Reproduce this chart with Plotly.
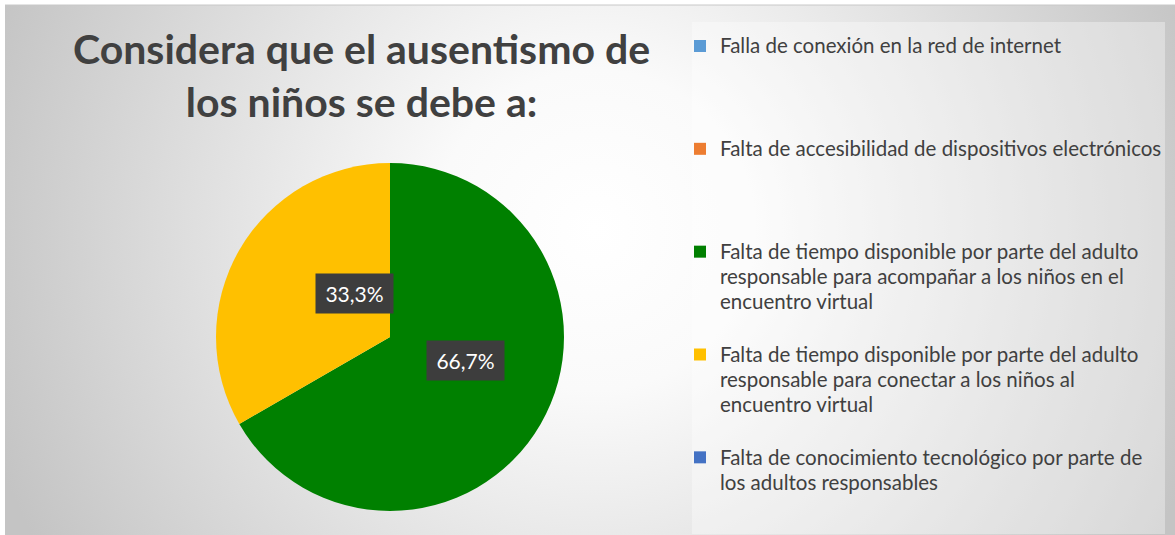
import base64
import math
import plotly.graph_objects as go

W, H = 1175, 535

# ---- data ----
categories = [
    "Falla de conexión en la red de internet",
    "Falta de accesibilidad de dispositivos electrónicos",
    "Falta de tiempo disponible por parte del adulto<br>responsable para acompañar a los niños en el<br>encuentro virtual",
    "Falta de tiempo disponible por parte del adulto<br>responsable para conectar a los niños al<br>encuentro virtual",
    "Falta de conocimiento tecnológico por parte de<br>los adultos responsables",
]
values = [0, 0, 2, 1, 0]
slice_colors = ["#5B9BD5", "#ED7D31", "#008000", "#FFC000", "#4472C4"]
title_text = "Considera que el ausentismo de<br>los niños se debe a:"

# ---- layout geometry (pixels) ----
pie_cx, pie_cy, pie_r = 390, 337, 174
legend_lines = 4          # lines reserved per legend entry
legend_font_px = 19.2     # controls line pitch
legend_text_px = 20.5     # visible text size

def padded(label, last):
    n = label.count("<br>") + 1
    body = f'<span style="font-size:{legend_text_px}px">{label}</span>'
    return body if last else body + "<br> " * (legend_lines - n)

display_labels = [padded(c, i == len(categories) - 1) for i, c in enumerate(categories)]

fig = go.Figure()
fig.add_trace(go.Pie(
    labels=display_labels,
    values=values,
    sort=False,
    direction="clockwise",
    rotation=0,
    marker=dict(colors=slice_colors, line=dict(width=0)),
    textinfo="none",
    hoverinfo="label+percent",
    domain=dict(x=[(pie_cx - pie_r) / W, (pie_cx + pie_r) / W],
                y=[1 - (pie_cy + pie_r) / H, 1 - (pie_cy - pie_r) / H]),
    showlegend=True,
))

# ---- percentage data labels (dark boxes) placed at half radius of each slice ----
total = sum(values)
cum = 0.0
annotations = []
for v in values:
    if v > 0:
        frac = v / total
        mid = (cum + frac / 2) * 2 * math.pi
        px = pie_cx + 0.5 * pie_r * math.sin(mid)
        py = pie_cy - 0.5 * pie_r * math.cos(mid)
        annotations.append(dict(
            x=px / W, y=1 - py / H, xref="paper", yref="paper",
            text=f"{frac * 100:.1f}%".replace(".", ","),
            showarrow=False, bgcolor="#3d3d3d",
            width=75, height=37,
            font=dict(family="Lato", size=21, color="white"),
        ))
    cum += v / total

# ---- title ----
annotations.append(dict(
    x=361 / W, y=1 - 22 / H, xref="paper", yref="paper",
    xanchor="center", yanchor="top", showarrow=False,
    text=title_text, align="center",
    font=dict(family="Lato", size=41, color="#404040", weight="bold"),
))

# ---- background radial gradient ----
bw, bh = W - 5, H - 5
svg = f'''<svg xmlns="http://www.w3.org/2000/svg" width="{bw}" height="{bh}" viewBox="0 0 {bw} {bh}" preserveAspectRatio="none">
<defs><radialGradient id="g" gradientUnits="userSpaceOnUse" cx="590" cy="225" r="640">
<stop offset="0" stop-color="#ffffff"/><stop offset="0.25" stop-color="#fafafa"/>
<stop offset="1" stop-color="#c4c4c4"/></radialGradient></defs>
<rect x="0" y="0" width="{bw}" height="{bh}" fill="url(#g)"/></svg>'''
bg_src = "data:image/svg+xml;base64," + base64.b64encode(svg.encode()).decode()

fig.update_layout(
    width=W, height=H,
    margin=dict(l=0, r=0, t=0, b=0),
    paper_bgcolor="white",
    plot_bgcolor="white",
    images=[dict(source=bg_src, xref="paper", yref="paper",
                 x=5 / W, y=1 - 5 / H, sizex=bw / W, sizey=bh / H,
                 xanchor="left", yanchor="top", sizing="stretch", layer="below")],
    shapes=[
        dict(type="rect", xref="paper", yref="paper",
             x0=692 / W, x1=1165 / W, y0=1 - 534 / H, y1=1 - 22 / H,
             fillcolor="rgba(255,255,255,0.35)", line=dict(width=0), layer="below"),
        dict(type="line", xref="paper", yref="paper",
             x0=5 / W, x1=1, y0=1 - 5 / H, y1=1 - 5 / H,
             line=dict(color="#c8c8c8", width=1), layer="below"),
    ],
    legend=dict(x=680 / W, xanchor="left", y=1 - 27 / H, yanchor="top",
                bgcolor="rgba(0,0,0,0)", valign="top",
                font=dict(family="Lato", size=legend_font_px, color="#404040"),
                traceorder="normal"),
    annotations=annotations,
)

fig.write_html("out.html", config={"displayModeBar": False},
               post_script="document.body.style.margin='0px';")
